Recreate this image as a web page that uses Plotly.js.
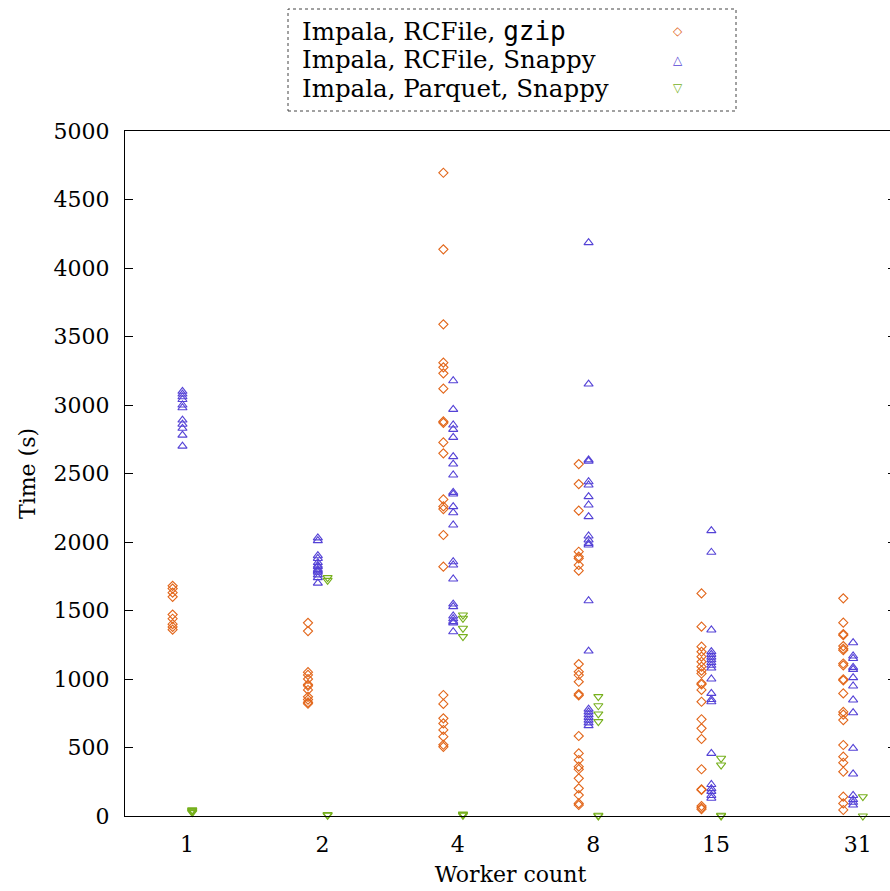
<!DOCTYPE html>
<html>
<head>
<meta charset="utf-8">
<script src="https://cdn.plot.ly/plotly-3.0.1.min.js"></script>
<style>html,body{margin:0;padding:0;background:#fff;overflow:hidden;width:890px;height:891px;}#chart{width:896px;height:891px;}</style>
</head>
<body>
<div id="chart"></div>
<script>
// Worker counts (x categories, log axis)
const workers = [1, 2, 4, 8, 15, 31];
const tickLabels = ["1", "2", "4", "8", "15", "31"];

// Impala, RCFile, gzip — query times (s) per worker count
const gzipTimes = [
  [1680, 1660, 1630, 1600, 1470, 1440, 1400, 1380, 1360],
  [1410, 1350, 1050, 1030, 1000, 960, 950, 920, 870, 850, 830, 820],
  [4695, 4136, 3589, 3309, 3275, 3231, 3119, 2880, 2870, 2727, 2647, 2311, 2260, 2240, 2051, 1820, 883, 818, 713, 676, 628, 579, 520, 505],
  [2569, 2423, 2229, 1929, 1893, 1880, 1832, 1791, 1109, 1053, 1029, 980, 890, 880, 584, 457, 409, 360, 341, 275, 202, 153, 92, 80],
  [1625, 1382, 1236, 1199, 1163, 1126, 1090, 1061, 1040, 969, 960, 920, 834, 706, 640, 562, 341, 195, 190, 73, 60, 50],
  [1589, 1411, 1328, 1320, 1240, 1220, 1210, 1113, 1100, 998, 990, 895, 760, 740, 700, 518, 433, 389, 323, 141, 92, 44]
];

// Impala, RCFile, Snappy
const snappyTimes = [
  [3100, 3080, 3060, 3040, 3000, 2980, 2890, 2860, 2830, 2780, 2700],
  [2030, 2010, 1900, 1880, 1850, 1830, 1820, 1800, 1790, 1780, 1760, 1740, 1700],
  [3177, 2968, 2854, 2822, 2764, 2623, 2569, 2489, 2362, 2350, 2258, 2214, 2124, 1856, 1832, 1730, 1547, 1528, 1460, 1440, 1420, 1410, 1345],
  [4185, 3153, 2600, 2590, 2440, 2416, 2331, 2270, 2185, 2044, 2015, 1990, 1978, 1571, 1204, 780, 760, 740, 720, 700, 680, 660],
  [2083, 1925, 1358, 1200, 1180, 1160, 1140, 1120, 1100, 1080, 1000, 895, 850, 834, 457, 230, 200, 180, 150, 130],
  [1265, 1168, 1150, 1085, 1070, 1010, 949, 847, 754, 494, 307, 150, 120, 100, 80]
];

// Impala, Parquet, Snappy
const parquetTimes = [
  [45, 40, 35, 30, 25],
  [1740, 1720, 10, 5],
  [1467, 1443, 1370, 1309, 15, 10, 5],
  [871, 805, 745, 689, 5, 0],
  [421, 372, 5, 0],
  [141, 0]
];

const seriesNames = ["Impala, RCFile, gzip", "Impala, RCFile, Snappy", "Impala, Parquet, Snappy"];
const legendLabels = [
  'Impala, RCFile, <span style="font-family:\'DejaVu Sans Mono\';font-size:26px">gzip</span>',
  'Impala, RCFile, Snappy',
  'Impala, Parquet, Snappy'
];

// styling
const colors = ["#e2661a", "#5442d6", "#76b01c"];
const symbols = ["diamond-open", "triangle-up-open", "triangle-down-open"];
const sizes = [7, 8, 8];
const offsets = [0.929, 0.977, 1.027]; // horizontal dodge (multiplicative on log axis)
const glyphs = ["\u25C7", "\u25B3", "\u25BD"];

function build(times, k) {
  const xs = [], ys = [];
  times.forEach((arr, i) => arr.forEach(v => { xs.push(workers[i] * offsets[k]); ys.push(v); }));
  return {
    type: "scatter", mode: "markers", name: seriesNames[k], x: xs, y: ys, cliponaxis: false,
    marker: {symbol: symbols[k], size: sizes[k], color: colors[k], line: {width: 1.1, color: colors[k]}},
    showlegend: false, hoverinfo: "x+y"
  };
}

const data = [build(gzipTimes, 0), build(snappyTimes, 1), build(parquetTimes, 2)];

const W = 896, H = 891, L = 125, R = 0, T = 131, B = 75;
const pw = W - L - R, ph = H - T - B;
const px = x => (x - L) / pw;
const py = y => (H - B - y) / ph;

const font = "DejaVu Serif";
const annotations = [];
const legendY = [31, 60, 88];
for (let k = 0; k < 3; k++) {
  annotations.push({xref: "paper", yref: "paper", x: px(300), y: py(legendY[k]), xanchor: "left", yanchor: "middle",
    text: legendLabels[k], showarrow: false, font: {family: font, size: 24.5, color: "#000"}});
  annotations.push({xref: "paper", yref: "paper", x: px(678), y: py(legendY[k]), xanchor: "center", yanchor: "middle",
    text: glyphs[k], showarrow: false, font: {family: "DejaVu Sans", size: 12, color: colors[k]}});
}

const layout = {
  width: W, height: H,
  margin: {l: L, r: R, t: T, b: B},
  paper_bgcolor: "#fff", plot_bgcolor: "#fff",
  font: {family: font, size: 22, color: "#000"},
  xaxis: {
    type: "log", range: [-0.1379, 1.5766],
    tickvals: workers, ticktext: tickLabels,
    ticks: "", showgrid: false, zeroline: false,
    showline: true, mirror: true, linecolor: "#000", linewidth: 1,
    tickfont: {family: font, size: 22, color: "#000"},
    ticklabelstandoff: 9,
    title: {text: "Worker count", font: {family: font, size: 22, color: "#000"}, standoff: 10}
  },
  yaxis: {
    range: [0, 5000], dtick: 500, tick0: 0,
    ticks: "inside", ticklen: 8, tickcolor: "#000", tickwidth: 1,
    showgrid: false, zeroline: false,
    showline: true, mirror: "ticks", linecolor: "#000", linewidth: 1,
    tickfont: {family: font, size: 22, color: "#000"},
    ticklabelstandoff: 10,
    title: {text: "Time (s)", font: {family: font, size: 22, color: "#000"}, standoff: 11}
  },
  shapes: [{type: "rect", xref: "paper", yref: "paper", x0: px(288), x1: px(736), y0: py(111), y1: py(9),
    line: {color: "#444", width: 1, dash: "dot"}}],
  annotations: annotations,
  showlegend: false
};

Plotly.newPlot("chart", data, layout, {displayModeBar: false, staticPlot: true});
</script>
</body>
</html>
